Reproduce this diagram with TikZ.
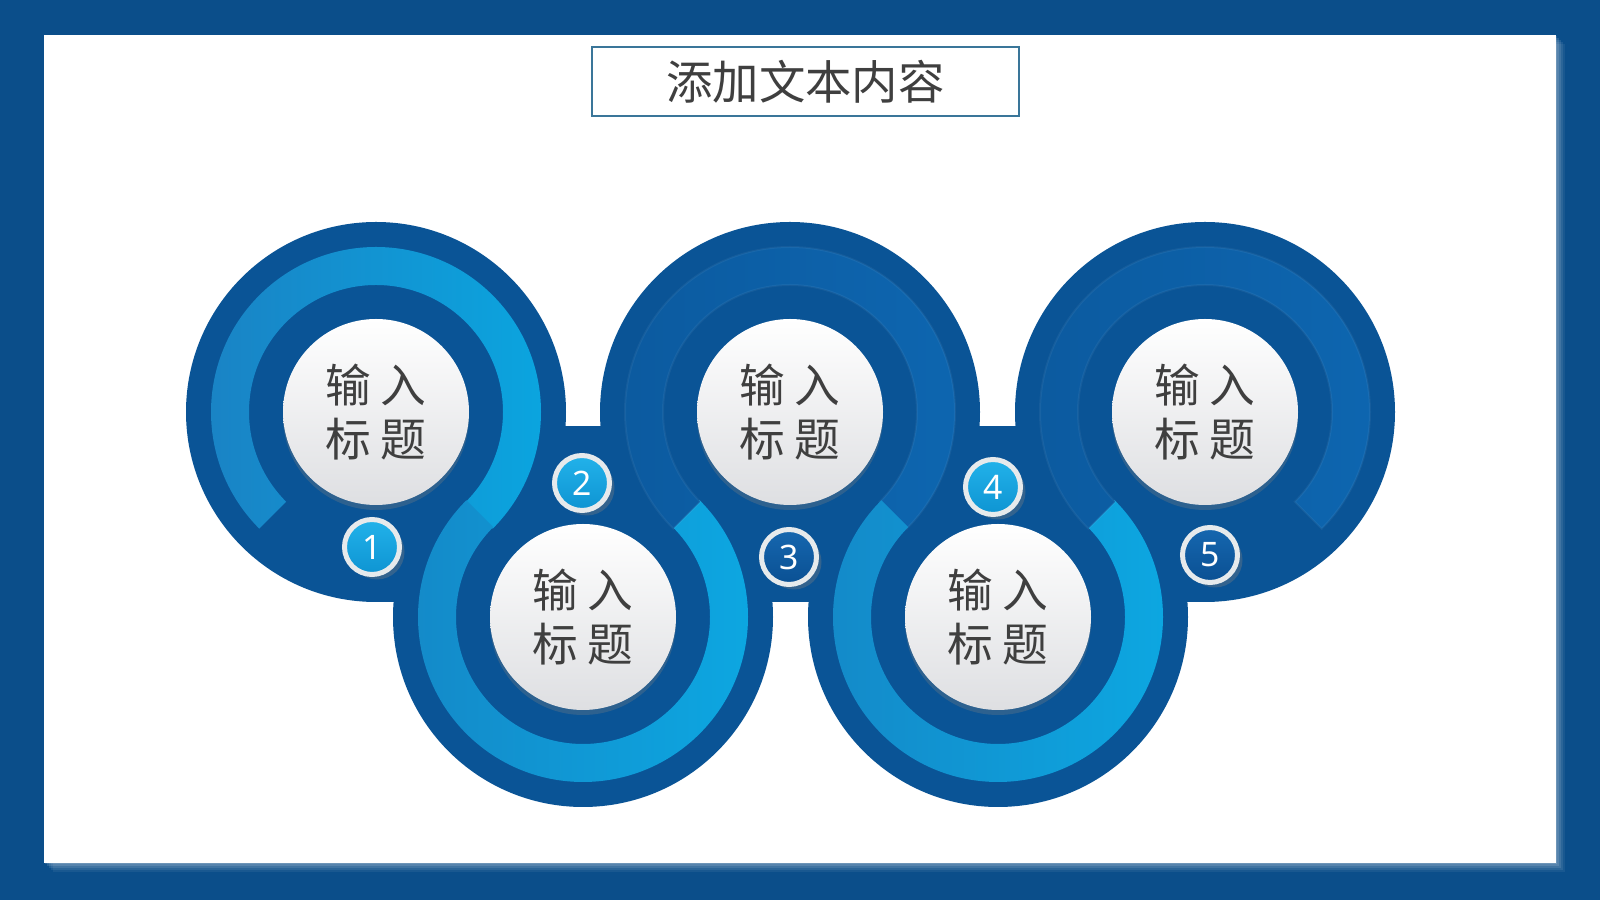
\documentclass[tikz,border=0pt]{standalone}
\usepackage{fontspec}
\newfontfamily\cjk{Noto Sans CJK SC}
\newfontfamily\numfont{Noto Sans}
\usepackage{tikz}
\usetikzlibrary{shadows}

\definecolor{framebg}{HTML}{0B4E8A}
\definecolor{discblue}{HTML}{0A5496}
\definecolor{titleline}{HTML}{3A7699}
\definecolor{textgray}{HTML}{3F3F3F}
\definecolor{facegray}{HTML}{DEDFE2}
\definecolor{badgerim}{HTML}{E6EAEC}
\definecolor{brightleft}{HTML}{1A82C4}
\definecolor{brightright}{HTML}{0AA6E0}
\definecolor{lowleft}{HTML}{1489C8}
\definecolor{lowmid}{HTML}{0E9AD7}
\definecolor{lowright}{HTML}{0CA8E2}
\definecolor{deepleft}{HTML}{0C5A9F}
\definecolor{deepmid}{HTML}{0B569A}
\definecolor{deepright}{HTML}{0D66B0}
\definecolor{badgetop}{HTML}{22B2EA}
\definecolor{badgebot}{HTML}{0E94D2}
\definecolor{darktop}{HTML}{1667AF}
\definecolor{darkbot}{HTML}{0A5093}

% one part of the ring: node, start angle, end angle, style
\newcommand{\ringpart}[4]{%
    \path[#4] ([shift={(#2:165)}]#1.center) arc[start angle=#2, end angle=#3, radius=165]
        -- ([shift={(#3:127)}]#1.center) arc[start angle=#3, end angle=#2, radius=127] -- cycle;
}

\begin{document}
\begin{tikzpicture}[
            x = 0.1mm, y = 0.1mm, % one unit is one pixel
            every node/.style = {inner sep=0pt},
            bigdisc/.style = {circle, fill=discblue, minimum size=38mm},
            face/.style = {circle, minimum size=18.6mm, top color=white, bottom color=facegray,
                align=center, text=textgray, font=\cjk\fontsize{13pt}{15.3pt}\selectfont,
                drop shadow={shadow xshift=0mm, shadow yshift=-.5mm, opacity=.3}},
            badge/.style = {circle, minimum size=5.5mm, line width=.5mm, draw=badgerim,
                text=white, font=\numfont\fontsize{9.6pt}{10pt}\selectfont,
                drop shadow={shadow xshift=.5mm, shadow yshift=-.5mm, opacity=.35}},
            badgecyan/.style = {badge, top color=badgetop, bottom color=badgebot},
            badgedeep/.style = {badge, top color=darktop, bottom color=darkbot},
            ringbright/.style = {left color=brightleft, right color=brightright},
            ringlow/.style = {left color=lowleft, middle color=lowmid, right color=lowright},
            ringdeep/.style = {left color=deepleft, middle color=deepmid, right color=deepright,
                draw=white, draw opacity=.05, line width=.2mm},
            titlebox/.style = {draw=titleline, line width=.12mm, fill=white,
                minimum width=42.7mm, minimum height=6.9mm, text=textgray,
                font=\cjk\fontsize{13.2pt}{14pt}\selectfont}
        ]

        \useasboundingbox (0,0) rectangle (1600,900);

        % frame and page
        \fill[framebg] (0,0) rectangle (1600,900);
        \foreach \s/\o in {9/.06, 7/.08, 5/.1, 3/.12, 1/.14}
            \fill[white, opacity=\o] (44+\s,37-\s) rectangle (1556+\s,865-\s);
        \fill[white] (44,37) rectangle (1556,865);

        \node[titlebox] (title) at (805.5,818.5) {添加文本内容};

        % dark discs and the band between them
        \fill[discblue] (376,298) rectangle (1205,474);
        \node[bigdisc] (c1) at (376,488) {};
        \node[bigdisc] (c2) at (583,283) {};
        \node[bigdisc] (c3) at (790,488) {};
        \node[bigdisc] (c4) at (998,283) {};
        \node[bigdisc] (c5) at (1205,488) {};

        % the ring running through all five
        \ringpart{c1}{225}{-45}{ringbright}
        \ringpart{c2}{135}{405}{ringlow}
        \ringpart{c3}{225}{-45}{ringdeep}
        \ringpart{c4}{135}{405}{ringlow}
        \ringpart{c5}{225}{-45}{ringdeep}

        \node[face] (f1) at (c1) {输\hspace{1mm}入\\标\hspace{1mm}题};
        \node[face] (f2) at (c2) {输\hspace{1mm}入\\标\hspace{1mm}题};
        \node[face] (f3) at (c3) {输\hspace{1mm}入\\标\hspace{1mm}题};
        \node[face] (f4) at (c4) {输\hspace{1mm}入\\标\hspace{1mm}题};
        \node[face] (f5) at (c5) {输\hspace{1mm}入\\标\hspace{1mm}题};

        \node[badgecyan] (n1) at (372,353) {1};
        \node[badgecyan] (n2) at (582,417) {2};
        \node[badgedeep] (n3) at (789,343) {3};
        \node[badgecyan] (n4) at (993,413) {4};
        \node[badgedeep] (n5) at (1210,345) {5};

    \end{tikzpicture}
\end{document}
